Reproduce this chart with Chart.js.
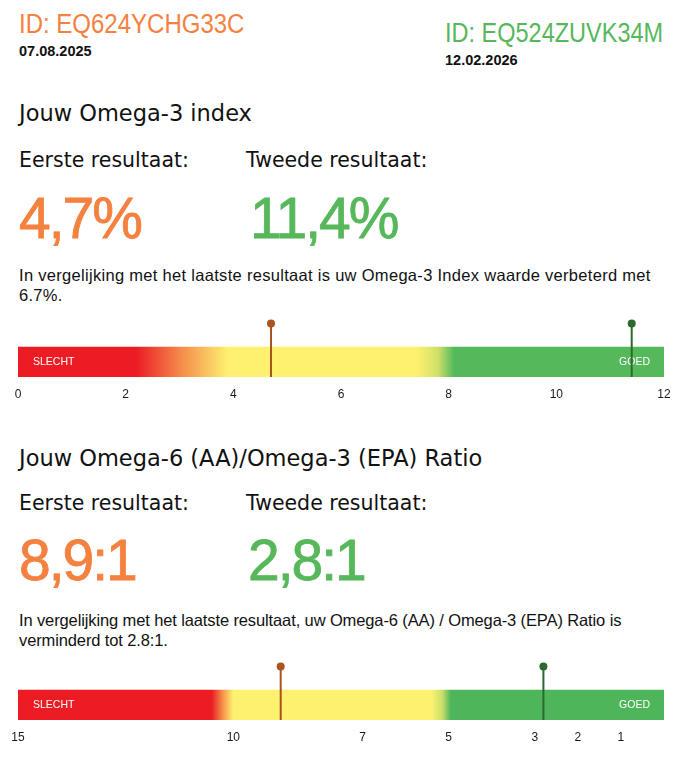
<!DOCTYPE html>
<html>
<head>
<meta charset="utf-8">
<script src="https://cdn.jsdelivr.net/npm/chart.js@4"></script>
<style>
  html, body { margin: 0; padding: 0; background: #fff; }
  body { width: 696px; height: 758px; position: relative; overflow: hidden; color: #111; }
  .t { position: absolute; white-space: nowrap; line-height: 1; }
  .sans { font-family: "Liberation Sans", Arial, sans-serif; }
  .wide { font-family: "DejaVu Sans", sans-serif; }
  .tall { transform: scaleY(1.15); transform-origin: left center; }
  .orange { color: #f4813f; }
  .green { color: #57b75b; }
  .big { font-family: "Liberation Sans", Arial, sans-serif; font-size: 57px; letter-spacing: -2px; -webkit-text-stroke: 0.8px currentColor; }
  .para { position: absolute; left: 19px; font-family: "Liberation Sans", Arial, sans-serif; font-size: 16.5px; line-height: 20px; white-space: nowrap; }
  canvas { position: absolute; left: 0; }
</style>
</head>
<body>

<div class="t sans orange tall" style="left:19px; top:11.8px; font-size:24px;">ID: EQ624YCHG33C</div>
<div class="t sans" style="left:19px; top:44px; font-size:14.5px; font-weight:bold;">07.08.2025</div>
<div class="t sans green tall" style="left:445px; top:21.5px; font-size:23.5px;">ID: EQ524ZUVK34M</div>
<div class="t sans" style="left:445px; top:53px; font-size:14.5px; font-weight:bold;">12.02.2026</div>

<div class="t wide" style="left:19px; top:101.7px; font-size:22.5px;">Jouw Omega-3 index</div>
<div class="t wide" style="left:19px; top:149.6px; font-size:20.5px;">Eerste resultaat:</div>
<div class="t wide" style="left:246px; top:149.6px; font-size:20.5px;">Tweede resultaat:</div>
<div class="t big orange" style="left:19px; top:189.7px;">4,7%</div>
<div class="t big green" style="left:250px; top:189.7px;">11,4%</div>
<div class="para" style="top:265px; letter-spacing:0.3px;">In vergelijking met het laatste resultaat is uw Omega-3 Index waarde verbeterd met<br>6.7%.</div>
<canvas id="omega3Chart" width="696" height="94" style="top:310px;"></canvas>

<div class="t wide" style="left:19px; top:446.7px; font-size:22.5px;">Jouw Omega-6 (AA)/Omega-3 (EPA) Ratio</div>
<div class="t wide" style="left:19px; top:493px; font-size:20.5px;">Eerste resultaat:</div>
<div class="t wide" style="left:246px; top:493px; font-size:20.5px;">Tweede resultaat:</div>
<div class="t big orange" style="left:19px; top:532px;">8,9:1</div>
<div class="t big green" style="left:248px; top:532px;">2,8:1</div>
<div class="para" style="top:610px; letter-spacing:-0.12px;">In vergelijking met het laatste resultaat, uw Omega-6 (AA) / Omega-3 (EPA) Ratio is<br>verminderd tot 2.8:1.</div>
<canvas id="ratioChart" width="696" height="94" style="top:653px;"></canvas>

<script>
// omega-3 index scale
const omega3Range = [0, 12];
const omega3Ticks = [0, 2, 4, 6, 8, 10, 12];
const omega3Results = [4.7, 11.4];
const omega3ZoneValues = [0, 2.2, 3.0, 3.9, 7.4, 7.8, 8.1, 12];
const omega3ZoneColors = ['#ec1c24', '#ec1c24', '#f3884a', '#fef16f', '#fef16f', '#cfe06a', '#55b95b', '#55b95b'];

// omega-6/omega-3 ratio scale (runs backwards)
const ratioRange = [0, 15];
const ratioTicks = [15, 10, 7, 5, 3, 2, 1];
const ratioResults = [8.9, 2.8];
const ratioZoneValues = [15, 10.5, 10.25, 10.0, 5.4, 5.15, 4.95, 0];
const ratioZoneColors = ['#ec1c24', '#ec1c24', '#f6904a', '#fef16f', '#fef16f', '#c9df6a', '#4fb55a', '#4fb55a'];

const bandLabels = ['SLECHT', 'GOED'];
const markerColors = ['#a9531f', '#2d6a2f'];

Chart.defaults.font.family = '"Liberation Sans", Arial, sans-serif';
Chart.defaults.color = '#1a1a1a';

/**
 * left to right gradient, stops placed through the x scale
 */
function zoneGradient(chart, values, colors) {
    const area = chart.chartArea;
    if (!area) return colors[0];
    const xScale = chart.scales.x;
    const g = chart.ctx.createLinearGradient(area.left, 0, area.right, 0);
    values.forEach(function (v, i) {
        let off = (xScale.getPixelForValue(v) - area.left) / (area.right - area.left);
        off = Math.min(1, Math.max(0, off));
        g.addColorStop(off, colors[i]);
    });
    return g;
}

// SLECHT / GOED written on the band, before the markers are drawn
const bandTextPlugin = {
    id: 'bandText',
    afterDatasetDraw(chart, args) {
        if (args.index !== 0) return;
        const ctx = chart.ctx;
        const area = chart.chartArea;
        const y = chart.scales.y.getPixelForValue(1);
        ctx.save();
        ctx.fillStyle = '#ffffff';
        ctx.font = '10.5px "Liberation Sans", Arial, sans-serif';
        ctx.textBaseline = 'middle';
        ctx.textAlign = 'left';
        ctx.fillText(bandLabels[0], area.left + 15, y);
        ctx.textAlign = 'right';
        ctx.fillText(bandLabels[1], area.right - 14, y);
        ctx.restore();
    }
};

function makeGauge(canvasId, range, ticks, results, zoneValues, zoneColors, reverse) {
    const markerSets = results.map(function (v, i) {
        return {
            type: 'scatter',
            indexAxis: 'x',
            xAxisID: 'x',
            yAxisID: 'y2',
            data: [{ x: v, y: 1 }, { x: v, y: 0 }],
            showLine: true,
            borderColor: markerColors[i],
            backgroundColor: markerColors[i],
            borderWidth: 2,
            pointRadius: [4, 0],
            pointBorderWidth: 0,
            pointHoverRadius: 0,
            order: 1
        };
    });

    return new Chart(document.getElementById(canvasId), {
        type: 'bar',
        data: {
            labels: ['', 'band'],
            datasets: [{
                data: [null, [range[0], range[1]]],
                backgroundColor: function (ctx) {
                    return zoneGradient(ctx.chart, zoneValues, zoneColors);
                },
                borderWidth: 0,
                grouped: false,
                barPercentage: 1,
                categoryPercentage: 1,
                order: 2
            }].concat(markerSets)
        },
        options: {
            indexAxis: 'y',
            responsive: false,
            devicePixelRatio: 1,
            animation: false,
            events: [],
            layout: { padding: { left: 18, right: 32, top: 7, bottom: 0 } },
            plugins: { legend: { display: false }, tooltip: { enabled: false } },
            scales: {
                x: {
                    type: 'linear',
                    position: 'bottom',
                    min: range[0],
                    max: range[1],
                    reverse: reverse,
                    grid: { display: false, drawTicks: false },
                    border: { display: false },
                    afterBuildTicks: function (axis) {
                        axis.ticks = ticks.map(function (v) { return { value: v }; });
                    },
                    afterFit: function (axis) { axis.height = 27; },
                    ticks: {
                        padding: 10,
                        maxRotation: 0,
                        autoSkip: false,
                        font: { size: 12 },
                        color: '#1a1a1a'
                    }
                },
                y: { display: false },
                y2: { type: 'linear', position: 'left', display: false, offset: false, min: 0, max: 1.12 }
            }
        },
        plugins: [bandTextPlugin]
    });
}

makeGauge('omega3Chart', omega3Range, omega3Ticks, omega3Results, omega3ZoneValues, omega3ZoneColors, false);
makeGauge('ratioChart', ratioRange, ratioTicks, ratioResults, ratioZoneValues, ratioZoneColors, true);
</script>
</body>
</html>
